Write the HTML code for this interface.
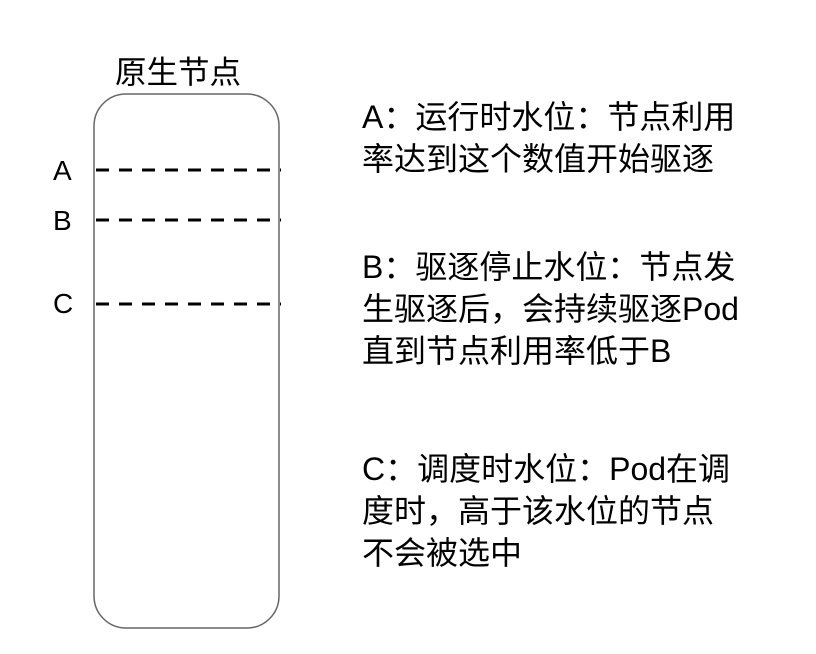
<!DOCTYPE html>
<html><head><meta charset="utf-8"><style>
html,body{margin:0;padding:0;background:#fff;}
body{width:816px;height:654px;position:relative;overflow:hidden;font-family:"Liberation Sans","Noto Sans CJK SC",sans-serif;color:#000;}
.t{position:absolute;white-space:nowrap;}
.r{position:absolute;left:362px;font-size:32px;letter-spacing:0px;line-height:42px;white-space:nowrap;}
</style></head><body>
<svg width="816" height="654" style="position:absolute;left:0;top:0">
<rect x="94" y="94" width="185" height="534" rx="32" ry="32" fill="none" stroke="#666" stroke-width="1.5"/>
<g stroke="#000" stroke-width="3" stroke-dasharray="13,10">
<line x1="96" y1="170" x2="281" y2="170"/>
<line x1="96" y1="220" x2="281" y2="220"/>
<line x1="96" y1="304" x2="281" y2="304"/>
</g>
</svg>
<div class="t" style="left:115px;top:47px;font-size:31.5px;">原生节点</div>
<div class="t" style="left:53px;top:155px;font-size:28px;">A</div>
<div class="t" style="left:53px;top:205px;font-size:28px;">B</div>
<div class="t" style="left:53px;top:288px;font-size:28px;">C</div>
<div class="r" style="top:96px;">A：运行时水位：节点利用<br>率达到这个数值开始驱逐</div>
<div class="r" style="top:246px;">B：驱逐停止水位：节点发<br>生驱逐后，会持续驱逐Pod<br>直到节点利用率低于B</div>
<div class="r" style="top:448px;">C：调度时水位：Pod在调<br>度时，高于该水位的节点<br>不会被选中</div>
</body></html>
